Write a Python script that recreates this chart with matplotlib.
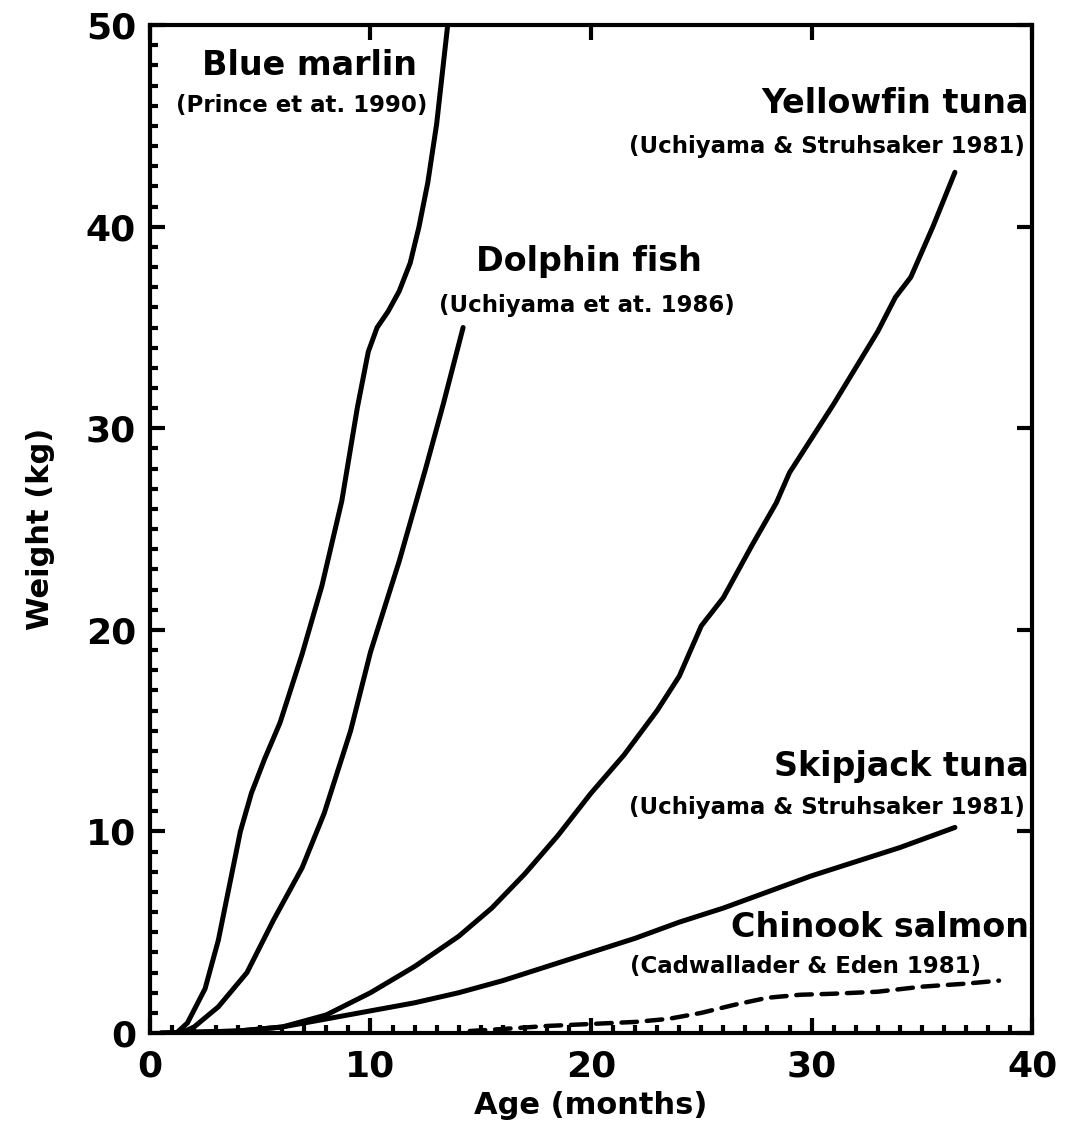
import numpy as np
import matplotlib
matplotlib.use("Agg")
import matplotlib.pyplot as plt
from matplotlib.ticker import MultipleLocator

# growth curves: age (months), weight (kg)
marlin_age = [1.2, 1.7, 2.5, 3.1, 3.6, 4.1, 4.6, 5.2, 5.9, 6.9, 7.8, 8.7, 9.4, 9.9, 10.3, 10.8, 11.3, 11.8, 12.2, 12.6, 13.0, 13.5]
marlin_kg = [0.0, 0.5, 2.2, 4.6, 7.3, 10.0, 11.9, 13.6, 15.4, 18.8, 22.2, 26.4, 31.0, 33.8, 35.0, 35.8, 36.8, 38.2, 40.0, 42.2, 45.1, 50.0]

dolphin_age = [1.4, 2.0, 3.1, 4.4, 5.6, 6.9, 7.9, 9.1, 10.0, 11.3, 12.5, 13.3, 14.2]
dolphin_kg = [0.0, 0.3, 1.3, 3.0, 5.6, 8.2, 10.9, 15.0, 18.9, 23.4, 28.0, 31.2, 35.0]

yellowfin_age = [0.5, 4, 6, 8, 10, 12, 14, 15.5, 17, 18.5, 20, 21.5, 23, 24, 25, 26, 27.3, 28.4, 29,
                 30, 31, 32, 33, 33.8, 34.5, 35.5, 36.5]
yellowfin_kg = [0.0, 0.1, 0.3, 0.9, 2.0, 3.3, 4.8, 6.2, 7.9, 9.8, 11.9, 13.8, 16.0, 17.7, 20.2, 21.6, 24.2,
                26.3, 27.8, 29.5, 31.2, 33.0, 34.8, 36.5, 37.5, 40.0, 42.7]

skipjack_age = [0.5, 4, 6, 8, 10, 12, 14, 16, 18, 20, 22, 24, 26, 28, 30, 32, 34, 36.5]
skipjack_kg = [0.0, 0.1, 0.3, 0.7, 1.1, 1.5, 2.0, 2.6, 3.3, 4.0, 4.7, 5.5, 6.2, 7.0, 7.8, 8.5, 9.2, 10.2]

chinook_age = [14.5, 16, 18, 20, 22, 23.5, 25, 26.5, 28, 29.5, 31, 33, 35, 37, 38.5]
chinook_kg = [0.1, 0.2, 0.35, 0.45, 0.55, 0.7, 1.0, 1.4, 1.75, 1.9, 1.95, 2.05, 2.3, 2.45, 2.6]

plt.rcParams["font.family"] = "DejaVu Sans"
plt.rcParams["font.weight"] = "bold"

fig = plt.figure(figsize=(10.68, 11.44), dpi=100)
ax = fig.add_axes([0.1404, 0.097, 0.826, 0.881])

lw = 3.6
for xs, ys in [(marlin_age, marlin_kg), (dolphin_age, dolphin_kg),
               (yellowfin_age, yellowfin_kg), (skipjack_age, skipjack_kg)]:
    ax.plot(xs, ys, color="black", lw=lw, solid_capstyle="round", solid_joinstyle="round")
ax.plot(chinook_age, chinook_kg, color="black", lw=3.2, ls=(0, (3.5, 2.2)), dash_capstyle="round")

ax.set_xlim(0, 40)
ax.set_ylim(0, 50)
ax.xaxis.set_major_locator(MultipleLocator(10))
ax.xaxis.set_minor_locator(MultipleLocator(1))
ax.yaxis.set_major_locator(MultipleLocator(10))
ax.yaxis.set_minor_locator(MultipleLocator(1))
ax.tick_params(which="major", direction="in", length=11, width=3, labelsize=26,
               top=True, right=True)
ax.tick_params(axis="x", which="major", pad=12)
ax.tick_params(axis="y", which="major", pad=10)
ax.tick_params(which="minor", direction="in", length=5.5, width=3, bottom=True, left=True,
               top=False, right=False)
for lab in ax.get_xticklabels() + ax.get_yticklabels():
    lab.set_fontweight("bold")
for sp in ax.spines.values():
    sp.set_linewidth(3)

ax.set_xlabel("Age (months)", fontsize=22, fontweight="bold", labelpad=5)
ax.set_ylabel("Weight (kg)", fontsize=22, fontweight="bold", labelpad=22)

name_fs, cite_fs = 24, 16.5
ax.text(7.25, 48.0, "Blue marlin", fontsize=name_fs, ha="center", va="center", fontweight="bold")
ax.text(6.86, 46.0, "(Prince et at. 1990)", fontsize=cite_fs, ha="center", va="center", fontweight="bold")
ax.text(19.9, 38.3, "Dolphin fish", fontsize=name_fs, ha="center", va="center", fontweight="bold")
ax.text(19.8, 36.1, "(Uchiyama et at. 1986)", fontsize=cite_fs, ha="center", va="center", fontweight="bold")
ax.text(39.85, 46.1, "Yellowfin tuna", fontsize=name_fs, ha="right", va="center", fontweight="bold")
ax.text(39.65, 44.0, "(Uchiyama & Struhsaker 1981)", fontsize=cite_fs, ha="right", va="center", fontweight="bold")
ax.text(39.85, 13.2, "Skipjack tuna", fontsize=name_fs, ha="right", va="center", fontweight="bold")
ax.text(39.65, 11.2, "(Uchiyama & Struhsaker 1981)", fontsize=cite_fs, ha="right", va="center", fontweight="bold")
ax.text(39.85, 5.25, "Chinook salmon", fontsize=name_fs, ha="right", va="center", fontweight="bold")
ax.text(37.7, 3.3, "(Cadwallader & Eden 1981)", fontsize=cite_fs, ha="right", va="center", fontweight="bold")

fig.savefig("out.png", dpi=100, facecolor="white")
